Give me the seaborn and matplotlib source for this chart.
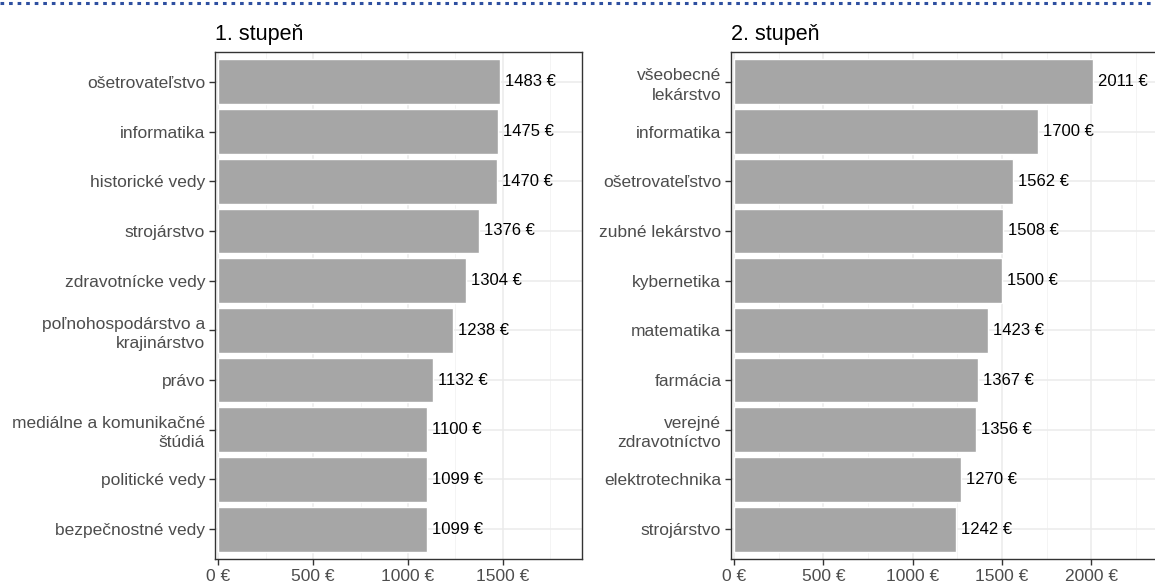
import matplotlib
matplotlib.use("Agg")
import matplotlib.pyplot as plt
from matplotlib.lines import Line2D
from matplotlib.ticker import MultipleLocator, FuncFormatter
import seaborn as sns
import pandas as pd

# data
odbory_1 = ["ošetrovateľstvo", "informatika", "historické vedy", "strojárstvo",
            "zdravotnícke vedy", "poľnohospodárstvo a\nkrajinárstvo", "právo",
            "mediálne a komunikačné\nštúdiá", "politické vedy", "bezpečnostné vedy"]
mzda_1 = [1483, 1475, 1470, 1376, 1304, 1238, 1132, 1100, 1099, 1099]

odbory_2 = ["všeobecné\nlekárstvo", "informatika", "ošetrovateľstvo", "zubné lekárstvo",
            "kybernetika", "matematika", "farmácia", "verejné\nzdravotníctvo",
            "elektrotechnika", "strojárstvo"]
mzda_2 = [2011, 1700, 1562, 1508, 1500, 1423, 1367, 1356, 1270, 1242]

titles = ["1. stupeň", "2. stupeň"]

sns.set_style("white")
plt.rcParams['font.family'] = ['Liberation Sans', 'DejaVu Sans']

fig = plt.figure(figsize=(11.55, 5.85), dpi=100)
W, H = 1155, 585
ax1 = fig.add_axes([215 / W, 1 - 559 / H, (582 - 215) / W, (559 - 52) / H])
ax2 = fig.add_axes([731 / W, 1 - 559 / H, (1160 - 731) / W, (559 - 52) / H])

panels = [(ax1, odbory_1, mzda_1, (-16, 1916)), (ax2, odbory_2, mzda_2, (-17, 2385))]
for (ax, cats, vals, xl), title in zip(panels, titles):
    df = pd.DataFrame({"odbor": cats, "mzda": vals})
    sns.barplot(data=df, x="mzda", y="odbor", orient="h", color="#A6A6A6",
                saturation=1, width=0.9, ax=ax, zorder=2)
    ax.set_xlim(*xl)
    ax.set_ylim(len(cats) - 0.4, -0.6)
    ax.xaxis.set_major_locator(MultipleLocator(500))
    ax.xaxis.set_minor_locator(MultipleLocator(250))
    ax.xaxis.set_major_formatter(FuncFormatter(lambda v, p: f"{int(v)} €"))
    ax.grid(True, which="major", color="#EBEBEB", linewidth=1.1, zorder=0)
    ax.grid(True, which="minor", axis="x", color="#F2F2F2", linewidth=0.6, zorder=0)
    ax.set_axisbelow(True)
    for s in ax.spines.values():
        s.set_color("#333333")
        s.set_linewidth(1.0)
    ax.tick_params(axis="both", which="major", length=4, width=1, color="#333333",
                   labelcolor="#4D4D4D", labelsize=12.5, pad=3, left=True, bottom=True)
    ax.tick_params(which="minor", length=0)
    for lab in ax.get_yticklabels():
        lab.set_linespacing(1.35)
    ax.set_xlabel("")
    ax.set_ylabel("")
    for i, v in enumerate(vals):
        ax.annotate(f"{v} €", (v, i), xytext=(3.5, 0), textcoords="offset points",
                    va="center", ha="left", fontsize=12, color="black")
    ax.text(0, 1 + 12 / 507, title, transform=ax.transAxes, fontsize=15.5, ha="left",
            va="baseline", color="black")

fig.add_artist(Line2D([0, 1], [1 - 3 / H, 1 - 3 / H], transform=fig.transFigure,
                      color="#2E4FA0", linewidth=2.2, linestyle=(0, (1.2, 1.6))))

fig.savefig("out.png", dpi=100)
